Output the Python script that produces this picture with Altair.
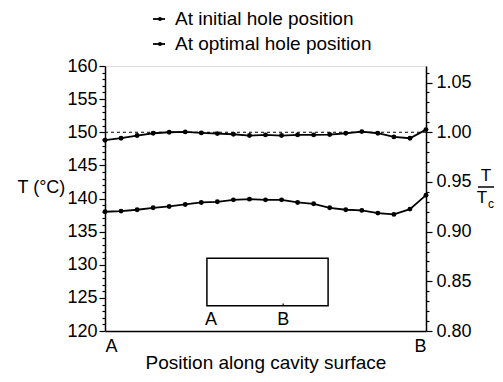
import altair as alt
import pandas as pd

# ---- data ----
positions = list(range(21))
initial_T = [138.0, 138.1, 138.3, 138.6, 138.8, 139.1, 139.4, 139.5, 139.8, 139.9,
             139.8, 139.8, 139.4, 139.2, 138.6, 138.3, 138.2, 137.8, 137.6, 138.4, 140.5]
optimal_T = [148.8, 149.1, 149.5, 149.85, 150.0, 150.05, 149.9, 149.8, 149.7, 149.5,
             149.6, 149.5, 149.6, 149.6, 149.65, 149.85, 150.1, 149.85, 149.3, 149.1, 150.4]
series_names = ["At initial hole position", "At optimal hole position"]
T_c = 150.0
left_ticks = list(range(120, 161))
right_ticks = [round(0.80 + 0.01 * k, 2) for k in range(27)]
end_labels = ["A", "B"]
inset_x = [6.35, 13.9]
inset_y = [131.0, 123.8]
inset_label_x = [6.6, 11.1]
inset_label_y = [121.6, 121.6]

FONT = "Liberation Sans"

df = pd.DataFrame({
    "pos": positions * 2,
    "T": initial_T + optimal_T,
    "series": [series_names[0]] * len(positions) + [series_names[1]] * len(positions),
})

xscale = alt.Scale(domain=[0, 20], nice=False, zero=False, padding=0)
yscale = alt.Scale(domain=[120, 160], nice=False, zero=False)

left_axis = alt.Axis(
    values=left_ticks,
    labelExpr="datum.value % 5 === 0 ? datum.label : ''",
    labelOverlap=False,
    tickSize={"condition": {"test": "datum.value % 5 === 0", "value": 6}, "value": 3},
    tickColor="black", tickWidth=1.2, domainColor="black", domainWidth=1.5,
    labelColor="black", labelFont=FONT, labelFontSize=18, labelPadding=2,
    grid=False, title="T (°C)", titleAngle=0, titleAlign="left", titleBaseline="middle",
    titleX=-88, titleY=121, titleFont=FONT, titleFontSize=18, titleFontWeight="normal",
    titleColor="black",
)

x_axis = alt.Axis(
    values=[0, 20],
    labelExpr=f"datum.value === 0 ? '{end_labels[0]}' : '{end_labels[1]}'",
    labelFlush=True, ticks=False, grid=False, labelOverlap=False,
    domainColor="black", domainWidth=1.5,
    labelColor="black", labelFont=FONT, labelFontSize=18, labelPadding=6,
    title="Position along cavity surface", titleFont=FONT, titleFontSize=19,
    titleFontWeight="normal", titleColor="black", titleBaseline="alphabetic",
    titleY=37, titleX=160.5, titleAlign="center",
)


def X(field):
    return alt.X(field, scale=xscale, axis=x_axis, title="Position along cavity surface")


def Y(field):
    return alt.Y(field, scale=yscale, axis=left_axis, title="T (°C)")


lines = alt.Chart(df).mark_line(
    color="black", strokeWidth=1.8,
    point=alt.OverlayMarkDef(filled=True, size=24, color="black"),
).encode(x=X("pos:Q"), y=Y("T:Q"), detail="series:N")

ref = alt.Chart(pd.DataFrame({"T": [T_c]})).mark_rule(
    color="black", strokeDash=[3, 3], strokeWidth=1.2
).encode(y=Y("T:Q"))

inset = alt.Chart(pd.DataFrame({
    "x": [inset_x[0]], "x2": [inset_x[1]], "y": [inset_y[0]], "y2": [inset_y[1]]
})).mark_rect(fillOpacity=0, stroke="black", strokeWidth=1.5).encode(
    x=X("x:Q"), x2="x2:Q", y=Y("y:Q"), y2="y2:Q",
)

inset_tick = alt.Chart(pd.DataFrame({
    "x": [inset_label_x[1]], "y": [inset_y[1]], "y2": [inset_y[1] + 0.35]
})).mark_rule(color="black", strokeWidth=1.2).encode(
    x=X("x:Q"), y=Y("y:Q"), y2="y2:Q"
)

inset_labels = alt.Chart(pd.DataFrame({
    "x": inset_label_x, "y": inset_label_y, "t": end_labels
})).mark_text(font=FONT, fontSize=18, color="black", baseline="middle").encode(
    x=X("x:Q"), y=Y("y:Q"), text="t:N"
)

# legend drawn with marks
legend_layers = []
for name, yy in zip(series_names, [-47, -22]):
    ldf = pd.DataFrame({"label": [name]})
    legend_layers.append(alt.Chart(ldf).mark_rule(color="black", strokeWidth=1.8).encode(
        x=alt.value(48), x2=alt.value(60), y=alt.value(yy)))
    legend_layers.append(alt.Chart(ldf).mark_point(filled=True, size=16, color="black", opacity=1).encode(
        x=alt.value(55), y=alt.value(yy)))
    legend_layers.append(alt.Chart(ldf).mark_text(
        font=FONT, fontSize=19, color="black", align="left", baseline="middle").encode(
        x=alt.value(70), y=alt.value(yy), text="label:N"))

# right-axis title as a fraction T / T_c
frac = pd.DataFrame({"a": [1]})
frac_layers = [
    alt.Chart(frac).mark_text(font=FONT, fontSize=17, color="black", align="center", baseline="middle", text="T").encode(
        x=alt.value(381), y=alt.value(110)),
    alt.Chart(frac).mark_rule(color="black", strokeWidth=1.5).encode(
        x=alt.value(373), x2=alt.value(389), y=alt.value(121)),
    alt.Chart(frac).mark_text(font=FONT, fontSize=17, color="black", align="center", baseline="middle", text="T").encode(
        x=alt.value(377), y=alt.value(132)),
    alt.Chart(frac).mark_text(font=FONT, fontSize=12, color="black", align="center", baseline="middle", text="c").encode(
        x=alt.value(386), y=alt.value(138)),
]

left_group = alt.layer(lines, ref, inset, inset_tick, inset_labels, *legend_layers, *frac_layers)

right_axis = alt.Axis(
    values=right_ticks,
    labelExpr="round(datum.value * 100) % 5 === 0 ? format(datum.value, '.2f') : ''",
    labelOverlap=False,
    tickSize={"condition": {"test": "round(datum.value * 100) % 5 === 0", "value": 6}, "value": 3},
    tickColor="black", tickWidth=1.2, domainColor="black", domainWidth=1.5,
    labelColor="black", labelFont=FONT, labelFontSize=18, labelPadding=4,
    grid=False, title=None,
)

right = alt.Chart(pd.DataFrame({"r": [0.8, 160 / 150]})).mark_point(opacity=0).encode(
    y=alt.Y("r:Q", scale=alt.Scale(domain=[0.8, 160 / 150], nice=False, zero=False), axis=right_axis)
)

chart = alt.layer(left_group, right).resolve_scale(y="independent").properties(
    width=321, height=265,
    autosize=alt.AutoSizeParams(type="none"),
    padding={"left": 97, "top": 58, "right": 69, "bottom": 43},
).configure_view(stroke="black", strokeWidth=1.5).configure(font=FONT, background="white")

chart.save("out.html", embed_options={"renderer": "svg", "actions": False})
